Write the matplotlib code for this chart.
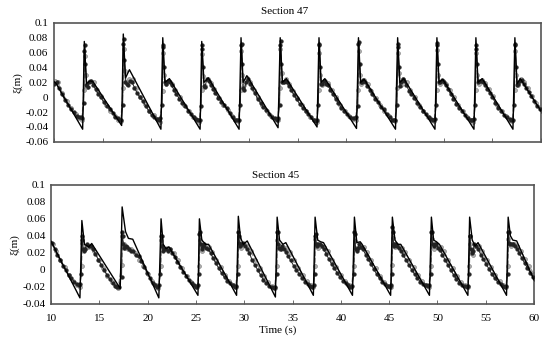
import numpy as np
import matplotlib
matplotlib.use("Agg")
import matplotlib.pyplot as plt

plt.rcParams['font.family'] = ['Liberation Serif', 'DejaVu Serif']

# ---------------- Section 47 (top) ----------------
line47_t = [10.0, 10.2, 12.95, 13.12, 13.35, 13.7, 14.0,
            16.95, 17.12, 17.35, 17.75,
            20.98, 21.17, 21.4, 21.85,
            25.0, 25.17, 25.4, 25.85,
            29.0, 29.2, 29.42, 29.8,
            33.0, 33.22, 33.45, 33.85,
            37.0, 37.2, 37.42, 37.8,
            41.05, 41.25, 41.47, 41.85,
            45.05, 45.27, 45.5, 45.9,
            49.1, 49.3, 49.52, 49.9,
            53.1, 53.3, 53.52, 53.95,
            57.1, 57.3, 57.52, 57.85, 60.0]
line47_y = [0.021, 0.019, -0.043, 0.075, 0.018, 0.022, 0.021,
            -0.038, 0.085, 0.026, 0.037,
            -0.043, 0.080, 0.020, 0.025,
            -0.043, 0.075, 0.020, 0.026,
            -0.043, 0.080, 0.020, 0.029,
            -0.041, 0.080, 0.020, 0.025,
            -0.040, 0.080, 0.020, 0.025,
            -0.042, 0.080, 0.020, 0.024,
            -0.043, 0.080, 0.020, 0.025,
            -0.043, 0.080, 0.020, 0.024,
            -0.043, 0.080, 0.020, 0.025,
            -0.043, 0.080, 0.018, 0.025, -0.019]

peaks47 = [9.12, 13.12, 17.12, 21.17, 25.17, 29.2, 33.22, 37.2, 41.25,
           45.27, 49.3, 53.3, 57.3]

# sample offsets (s) relative to each wave crest
black_off = [-0.06, 0.0, 0.05, 0.12, 0.22, 0.35, 0.5, 0.7, 0.9, 1.15,
             1.4, 1.7, 2.0, 2.3, 2.6, 2.9, 3.2, 3.45, 3.65, 3.8]
grey_off = [-0.02, 0.03, 0.15, 0.3, 0.6, 0.95, 1.3, 1.75, 2.2, 2.65,
            3.1, 3.5, 3.75]

black47 = [
    [-0.010, 0.060, 0.065, 0.040, 0.020, 0.016, 0.018, 0.020, 0.018, 0.020, 0.012, 0.004, -0.004, -0.010, -0.016, -0.020, -0.025, -0.027, -0.026, -0.028],
    [-0.008, 0.062, 0.070, 0.045, 0.016, 0.014, 0.020, 0.022, 0.016, 0.011, 0.005, 0.000, -0.007, -0.012, -0.016, -0.021, -0.026, -0.028, -0.030, -0.030],
    [-0.010, 0.072, 0.078, 0.050, 0.020, 0.018, 0.017, 0.022, 0.020, 0.013, 0.006, 0.000, -0.005, -0.012, -0.018, -0.024, -0.027, -0.029, -0.031, -0.028],
    [-0.010, 0.068, 0.070, 0.040, 0.020, 0.018, 0.022, 0.020, 0.016, 0.010, 0.004, -0.002, -0.008, -0.012, -0.018, -0.022, -0.026, -0.029, -0.030, -0.030],
    [-0.012, 0.065, 0.070, 0.040, 0.015, 0.014, 0.024, 0.022, 0.017, 0.011, 0.006, -0.001, -0.006, -0.011, -0.015, -0.021, -0.027, -0.030, -0.031, -0.030],
    [-0.010, 0.070, 0.072, 0.045, 0.012, 0.010, 0.020, 0.024, 0.018, 0.012, 0.006, -0.002, -0.008, -0.013, -0.017, -0.022, -0.026, -0.028, -0.030, -0.028],
    [-0.010, 0.070, 0.075, 0.045, 0.020, 0.020, 0.022, 0.020, 0.015, 0.010, 0.003, -0.003, -0.009, -0.014, -0.018, -0.022, -0.027, -0.030, -0.032, -0.030],
    [-0.010, 0.070, 0.072, 0.040, 0.018, 0.018, 0.022, 0.018, 0.017, 0.010, 0.004, -0.002, -0.008, -0.014, -0.019, -0.023, -0.026, -0.028, -0.028, -0.027],
    [-0.012, 0.072, 0.074, 0.045, 0.020, 0.020, 0.023, 0.021, 0.015, 0.010, 0.004, -0.003, -0.007, -0.013, -0.016, -0.022, -0.026, -0.030, -0.031, -0.030],
    [-0.010, 0.068, 0.072, 0.040, 0.015, 0.020, 0.024, 0.022, 0.016, 0.009, 0.005, -0.001, -0.008, -0.013, -0.018, -0.023, -0.027, -0.029, -0.030, -0.029],
    [-0.010, 0.070, 0.073, 0.045, 0.020, 0.021, 0.023, 0.020, 0.016, 0.011, 0.004, -0.002, -0.009, -0.014, -0.019, -0.024, -0.028, -0.030, -0.031, -0.029],
    [-0.010, 0.065, 0.070, 0.045, 0.020, 0.022, 0.022, 0.020, 0.017, 0.011, 0.006, 0.000, -0.008, -0.014, -0.018, -0.024, -0.027, -0.029, -0.031, -0.030],
    [-0.010, 0.070, 0.072, 0.040, 0.016, 0.018, 0.022, 0.023, 0.018, 0.013, 0.007, 0.001, -0.005, -0.012, -0.016, -0.020, -0.025, -0.028, -0.030, -0.030],
]
grey47 = [
    [0.010, 0.058, 0.030, 0.016, 0.022, 0.022, 0.020, 0.006, -0.005, -0.015, -0.022, -0.028, -0.030],
    [0.010, 0.055, 0.030, 0.014, 0.022, 0.020, 0.010, 0.001, -0.010, -0.018, -0.025, -0.030, -0.032],
    [0.012, 0.065, 0.035, 0.020, 0.025, 0.024, 0.012, 0.000, -0.009, -0.018, -0.024, -0.029, -0.033],
    [0.008, 0.060, 0.030, 0.018, 0.022, 0.018, 0.010, 0.000, -0.011, -0.019, -0.026, -0.031, -0.033],
    [0.010, 0.058, 0.028, 0.015, 0.024, 0.019, 0.011, -0.001, -0.010, -0.017, -0.025, -0.030, -0.032],
    [0.010, 0.062, 0.030, 0.016, 0.026, 0.020, 0.010, 0.000, -0.010, -0.018, -0.025, -0.029, -0.031],
    [0.012, 0.065, 0.032, 0.020, 0.024, 0.018, 0.009, -0.001, -0.011, -0.019, -0.026, -0.031, -0.033],
    [0.010, 0.060, 0.030, 0.017, 0.022, 0.019, 0.010, 0.000, -0.010, -0.018, -0.025, -0.029, -0.031],
    [0.010, 0.062, 0.030, 0.018, 0.023, 0.018, 0.009, -0.001, -0.010, -0.018, -0.025, -0.030, -0.032],
    [0.012, 0.060, 0.032, 0.016, 0.024, 0.020, 0.010, 0.000, -0.010, -0.019, -0.026, -0.030, -0.032],
    [0.010, 0.063, 0.030, 0.018, 0.022, 0.018, 0.010, 0.000, -0.011, -0.019, -0.026, -0.031, -0.033],
    [0.010, 0.060, 0.030, 0.018, 0.023, 0.019, 0.011, 0.001, -0.010, -0.018, -0.025, -0.030, -0.032],
    [0.010, 0.062, 0.030, 0.017, 0.024, 0.020, 0.012, 0.002, -0.008, -0.016, -0.024, -0.029, -0.031],
]

# ---------------- Section 45 (bottom) ----------------
line45_t = [10.0, 10.1, 12.98, 13.18, 13.45, 13.9, 14.2,
            17.15, 17.35, 17.7, 18.0, 18.45,
            21.15, 21.38, 21.6, 21.9, 22.2,
            25.2, 25.35, 25.6, 26.0, 26.3,
            29.2, 29.38, 29.6, 29.9, 30.3,
            33.22, 33.4, 33.65, 34.0, 34.3,
            37.15, 37.33, 37.6, 37.9, 38.2,
            41.2, 41.4, 41.65, 42.0, 42.2,
            45.15, 45.33, 45.6, 45.9, 46.2,
            49.17, 49.37, 49.6, 49.9, 50.2,
            53.15, 53.33, 53.6, 53.9, 54.2,
            57.15, 57.32, 57.55, 57.8, 58.2, 60.0]
line45_y = [0.033, 0.031, -0.033, 0.058, 0.030, 0.027, 0.031,
            -0.022, 0.074, 0.045, 0.037, 0.036,
            -0.033, 0.060, 0.030, 0.025, 0.027,
            -0.030, 0.060, 0.035, 0.030, 0.030,
            -0.030, 0.063, 0.038, 0.030, 0.034,
            -0.032, 0.062, 0.035, 0.030, 0.032,
            -0.030, 0.062, 0.035, 0.033, 0.032,
            -0.030, 0.062, 0.032, 0.033, 0.030,
            -0.030, 0.062, 0.035, 0.030, 0.030,
            -0.030, 0.062, 0.035, 0.033, 0.030,
            -0.030, 0.062, 0.035, 0.028, 0.032,
            -0.030, 0.062, 0.040, 0.035, 0.034, -0.012]

peaks45 = [9.2, 13.18, 17.35, 21.38, 25.35, 29.38, 33.4, 37.33, 41.4,
           45.33, 49.37, 53.33, 57.32]

black45 = [
    [-0.005, 0.045, 0.042, 0.030, 0.030, 0.032, 0.033, 0.033, 0.032, 0.025, 0.018, 0.012, 0.005, 0.000, -0.006, -0.010, -0.014, -0.017, -0.018, -0.017],
    [-0.005, 0.040, 0.035, 0.025, 0.022, 0.025, 0.030, 0.028, 0.028, 0.024, 0.019, 0.012, 0.006, 0.000, -0.006, -0.011, -0.016, -0.019, -0.020, -0.020],
    [-0.008, 0.045, 0.040, 0.030, 0.026, 0.028, 0.027, 0.025, 0.022, 0.022, 0.018, 0.016, 0.010, 0.003, -0.004, -0.010, -0.015, -0.018, -0.020, -0.018],
    [-0.005, 0.040, 0.040, 0.028, 0.022, 0.024, 0.025, 0.022, 0.024, 0.020, 0.015, 0.009, 0.003, -0.002, -0.007, -0.012, -0.016, -0.018, -0.020, -0.018],
    [-0.005, 0.042, 0.045, 0.030, 0.025, 0.028, 0.030, 0.026, 0.024, 0.020, 0.014, 0.008, 0.002, -0.004, -0.009, -0.013, -0.016, -0.018, -0.020, -0.019],
    [-0.005, 0.045, 0.040, 0.032, 0.028, 0.030, 0.032, 0.028, 0.025, 0.020, 0.012, 0.006, 0.000, -0.006, -0.012, -0.016, -0.019, -0.020, -0.021, -0.020],
    [-0.005, 0.045, 0.045, 0.030, 0.026, 0.025, 0.028, 0.025, 0.021, 0.016, 0.011, 0.005, 0.000, -0.005, -0.010, -0.014, -0.017, -0.019, -0.020, -0.018],
    [-0.005, 0.040, 0.042, 0.030, 0.028, 0.030, 0.030, 0.028, 0.024, 0.019, 0.013, 0.007, 0.002, -0.004, -0.009, -0.013, -0.016, -0.018, -0.020, -0.019],
    [-0.005, 0.045, 0.042, 0.025, 0.022, 0.026, 0.030, 0.027, 0.024, 0.018, 0.013, 0.007, 0.001, -0.005, -0.010, -0.014, -0.017, -0.019, -0.020, -0.018],
    [-0.005, 0.050, 0.045, 0.030, 0.028, 0.030, 0.028, 0.026, 0.022, 0.017, 0.012, 0.006, 0.000, -0.005, -0.010, -0.014, -0.017, -0.018, -0.019, -0.018],
    [-0.005, 0.045, 0.045, 0.030, 0.028, 0.030, 0.030, 0.026, 0.023, 0.018, 0.012, 0.006, 0.000, -0.006, -0.011, -0.015, -0.018, -0.019, -0.020, -0.019],
    [-0.005, 0.040, 0.040, 0.025, 0.020, 0.022, 0.030, 0.028, 0.024, 0.018, 0.013, 0.007, 0.001, -0.005, -0.010, -0.014, -0.017, -0.019, -0.020, -0.019],
    [-0.005, 0.045, 0.045, 0.032, 0.030, 0.030, 0.030, 0.028, 0.025, 0.020, 0.014, 0.008, 0.002, -0.004, -0.008, -0.012, -0.015, -0.017, -0.018, -0.018],
]
grey45 = [
    [0.005, 0.035, 0.028, 0.025, 0.027, 0.030, 0.022, 0.012, 0.003, -0.006, -0.013, -0.018, -0.020],
    [0.005, 0.032, 0.028, 0.024, 0.027, 0.027, 0.022, 0.012, 0.002, -0.007, -0.014, -0.019, -0.021],
    [0.006, 0.040, 0.030, 0.026, 0.025, 0.024, 0.020, 0.012, 0.004, -0.005, -0.013, -0.018, -0.021],
    [0.005, 0.035, 0.026, 0.024, 0.026, 0.025, 0.020, 0.011, 0.002, -0.007, -0.014, -0.019, -0.020],
    [0.004, 0.035, 0.025, 0.022, 0.028, 0.027, 0.021, 0.012, 0.003, -0.006, -0.013, -0.018, -0.020],
    [0.005, 0.038, 0.030, 0.026, 0.030, 0.028, 0.022, 0.011, 0.002, -0.007, -0.014, -0.019, -0.021],
    [0.005, 0.035, 0.028, 0.025, 0.027, 0.026, 0.021, 0.011, 0.002, -0.006, -0.013, -0.018, -0.020],
    [0.005, 0.036, 0.030, 0.026, 0.028, 0.027, 0.022, 0.012, 0.003, -0.006, -0.013, -0.018, -0.020],
    [0.005, 0.034, 0.026, 0.024, 0.027, 0.027, 0.021, 0.011, 0.002, -0.007, -0.014, -0.019, -0.020],
    [0.006, 0.038, 0.030, 0.027, 0.028, 0.026, 0.021, 0.012, 0.003, -0.006, -0.013, -0.018, -0.020],
    [0.005, 0.036, 0.028, 0.025, 0.027, 0.027, 0.022, 0.012, 0.002, -0.007, -0.014, -0.018, -0.020],
    [0.005, 0.030, 0.020, 0.018, 0.028, 0.028, 0.022, 0.012, 0.003, -0.006, -0.013, -0.018, -0.020],
    [0.005, 0.036, 0.030, 0.028, 0.030, 0.028, 0.022, 0.013, 0.004, -0.005, -0.012, -0.017, -0.019],
]

titles = ["Section 47", "Section 45"]
ylims = [(-0.06, 0.1), (-0.04, 0.1)]
yticks = [[-0.06, -0.04, -0.02, 0, 0.02, 0.04, 0.06, 0.08, 0.1],
          [-0.04, -0.02, 0, 0.02, 0.04, 0.06, 0.08, 0.1]]
ytick_labels = [["-0.06", "-0.04", "-0.02", "0", "0.02", "0.04", "0.06", "0.08", "0.1"],
                ["-0.04", "-0.02", "0", "0.02", "0.04", "0.06", "0.08", "0.1"]]
xticks = [10, 15, 20, 25, 30, 35, 40, 45, 50, 55, 60]


def expand(peaks, offsets, rows):
    t, y = [], []
    for p, row in zip(peaks, rows):
        for o, v in zip(offsets, row):
            t.append(p + o)
            y.append(v)
    return np.array(t), np.array(y)


fig = plt.figure(figsize=(5.5, 3.41), dpi=100)
ax1 = fig.add_axes([0.098, 0.584, 0.886, 0.349])
ax2 = fig.add_axes([0.093, 0.109, 0.878, 0.349])

panels = [
    (ax1, line47_t, line47_y, peaks47, black47, grey47),
    (ax2, line45_t, line45_y, peaks45, black45, grey45),
]

spine_col = '#555555'
for i, (ax, lt, ly, pk, blk, gry) in enumerate(panels):
    gt, gy = expand(pk, grey_off, gry)
    bt, by = expand(pk, black_off, blk)
    ax.plot(gt, gy, ls='--', color='#9a9a9a', lw=0.9, marker='o', ms=2.8,
            mfc='#b0b0b0', mec='#8a8a8a', mew=0.5, zorder=2)
    ax.plot(bt, by, ls='-', color='#222222', lw=0.7, marker='o', ms=2.7,
            mfc='#222222', mec='#222222', mew=0.3, zorder=3)
    ax.plot(lt, ly, color='black', lw=1.0, zorder=4)
    ax.set_xlim(10, 60)
    ax.set_ylim(*ylims[i])
    ax.set_yticks(yticks[i])
    ax.set_yticklabels(ytick_labels[i])
    ax.set_xticks(xticks)
    ax.tick_params(axis='x', direction='in', length=3, width=0.6,
                   colors=spine_col, labelcolor='black', labelsize=8, pad=7)
    ax.tick_params(axis='y', length=0, labelsize=8, pad=4)
    for s in ax.spines.values():
        s.set_color(spine_col)
        s.set_linewidth(1.2)

ax1.tick_params(axis='x', labelbottom=False)
ax1.set_ylabel('ξ(m)', fontsize=8, labelpad=2)
ax2.set_ylabel('ξ(m)', fontsize=8, labelpad=2)
fig.text(285 / 550, 1 - 12 / 341, titles[0], ha='center', va='center', fontsize=8)
fig.text(276 / 550, 1 - 176 / 341, titles[1], ha='center', va='center', fontsize=8)
fig.text(278 / 550, 1 - 330 / 341, 'Time (s)', ha='center', va='center', fontsize=8)

fig.savefig('out.png', dpi=100)
